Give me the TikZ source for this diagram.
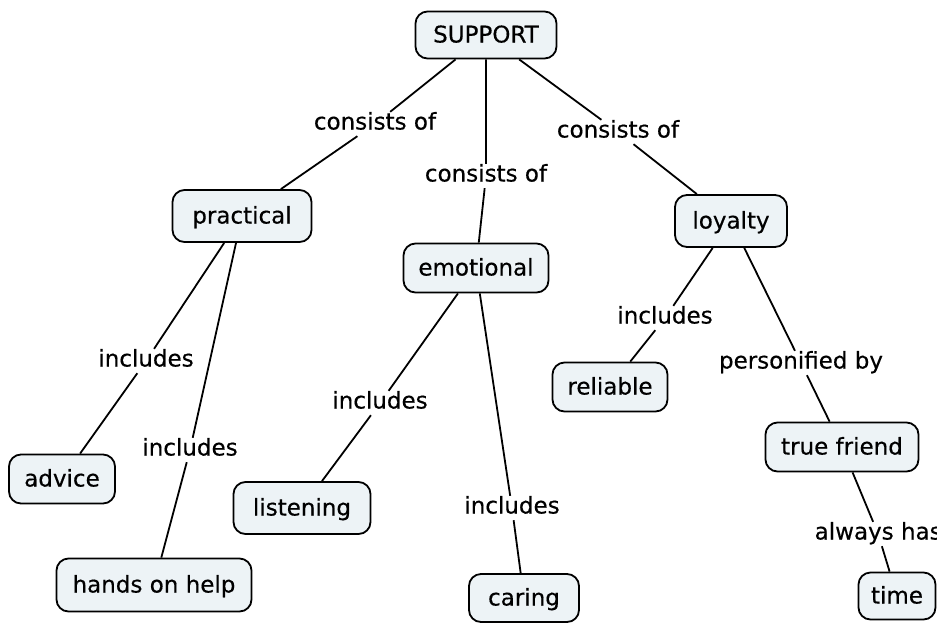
\documentclass[tikz,border=0pt]{standalone}
\usepackage{fontspec}
\setmainfont[FakeBold=0.4]{DejaVu Sans}
\definecolor{boxfill}{RGB}{237,243,246}
\tikzset{
  concept/.style={draw=black, fill=boxfill, line width=1.8pt, rounded corners=12pt,
    font=\fontsize{23}{27}\selectfont, text height=18pt, text depth=3pt,
    inner sep=0pt, align=center},
  linklabel/.style={font=\fontsize{23}{27}\selectfont, text height=16pt, text depth=5pt,
    inner sep=1.5pt},
  link/.style={draw=black, line width=1.8pt}
}
\begin{document}
\begin{tikzpicture}[x=1pt,y=-1pt]
\useasboundingbox (0,0) rectangle (937,622);
\clip (0,0) rectangle (937,622);
% concepts
\node[concept, minimum width=141pt, minimum height=47pt] (support) at (486,35) {SUPPORT};
\node[concept, minimum width=139pt, minimum height=52pt] (practical) at (242,216) {practical};
\node[concept, minimum width=145pt, minimum height=49pt] (emotional) at (476,268) {emotional};
\node[concept, minimum width=112pt, minimum height=52pt] (loyalty) at (731,221) {loyalty};
\node[concept, minimum width=106pt, minimum height=49pt] (advice) at (62,479) {advice};
\node[concept, minimum width=195pt, minimum height=53pt] (hands) at (154,585) {hands on help};
\node[concept, minimum width=137pt, minimum height=52pt] (listening) at (302,508) {listening};
\node[concept, minimum width=110pt, minimum height=48pt] (caring) at (524,598) {caring};
\node[concept, minimum width=115pt, minimum height=49pt] (reliable) at (610,387) {reliable};
\node[concept, minimum width=153pt, minimum height=49pt] (truefriend) at (842,447) {true friend};
\node[concept, minimum width=77pt, minimum height=47pt] (time) at (897,596) {time};
% linking phrases
\node[linklabel] (l1) at (375,124) {consists of};
\node[linklabel] (l2) at (486,176) {consists of};
\node[linklabel] (l3) at (618,132) {consists of};
\node[linklabel] (l4) at (146,361) {includes};
\node[linklabel] (l5) at (190,450) {includes};
\node[linklabel] (l6) at (380,403) {includes};
\node[linklabel] (l7) at (512,508) {includes};
\node[linklabel] (l8) at (665,318) {includes};
\node[linklabel] (l9) at (801,363) {personified by};
\node[linklabel, anchor=west] (l10) at (813,534) {always has};
% connectors
\draw[link] (support) -- (l1) -- (practical);
\draw[link] (support) -- (l2) -- (emotional);
\draw[link] (support) -- (l3) -- (loyalty);
\draw[link] (practical) -- (l4) -- (advice);
\draw[link] (practical) -- (l5) -- (hands);
\draw[link] (emotional) -- (l6) -- (listening);
\draw[link] (emotional) -- (l7) -- (caring);
\draw[link] (loyalty) -- (l8) -- (reliable);
\draw[link] (loyalty) -- (l9) -- (truefriend);
\draw[link] (truefriend) -- (l10) -- (time);
\end{tikzpicture}
\end{document}
